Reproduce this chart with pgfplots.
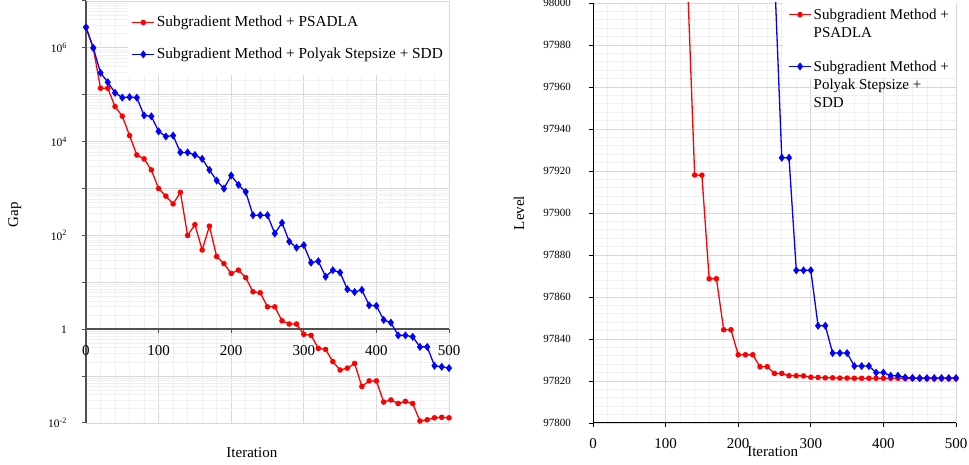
\documentclass[border=0pt]{standalone}
\usepackage{fontspec}
\setmainfont{Liberation Serif}
\usepackage{pgfplots}
\pgfplotsset{compat=1.18}
\definecolor{gmaj}{RGB}{217,217,217}
\definecolor{gmin}{RGB}{240,240,240}
\definecolor{axgray}{RGB}{80,80,80}
\pgfplotsset{
  /pgf/number format/assume math mode=true,
  /pgf/number format/1000 sep={},
  myleg/.style={legend image code/.code={%
    \draw[##1] (0pt,0pt) -- (22pt,0pt);
    \draw[##1,mark repeat=1] plot coordinates {(11pt,0pt)};}},
  redser/.style={red, line width=1.3pt, mark=*, mark size=2.1pt, mark options={solid}},
  blueser/.style={blue, line width=1.3pt, mark=diamond*, mark size=3pt, mark options={solid}},
}
\begin{document}
\fontsize{15}{17.5}\selectfont
\begin{tikzpicture}[x=1pt,y=1pt]
\useasboundingbox (0,0) rectangle (969,465);
\begin{axis}[
  at={(86pt,42pt)}, anchor=south west, scale only axis,
  width=363pt, height=422pt,
  ymode=log, xmin=0, xmax=500, ymin=1e-2, ymax=1e7,
  axis x line=middle, axis y line=left,
  axis line style={-, draw=axgray, line width=1.3pt},
  every outer y axis line/.append style={-, draw=axgray, line width=1.3pt},
  hide obscured x ticks=false,
  xtick={0,100,200,300,400,500}, minor x tick num=4,
  ytick={1e-2,1e-1,1,1e1,1e2,1e3,1e4,1e5,1e6,1e7},
  yticklabels={10\textsuperscript{-2},,1,,10\textsuperscript{2},,10\textsuperscript{4},,10\textsuperscript{6},},
  minor ytick={2e-2,3e-2,4e-2,5e-2,6e-2,7e-2,8e-2,9e-2,
    2e-1,3e-1,4e-1,5e-1,6e-1,7e-1,8e-1,9e-1,
    2,3,4,5,6,7,8,9,20,30,40,50,60,70,80,90,
    200,300,400,500,600,700,800,900,
    2e3,3e3,4e3,5e3,6e3,7e3,8e3,9e3,
    2e4,3e4,4e4,5e4,6e4,7e4,8e4,9e4,
    2e5,3e5,4e5,5e5,6e5,7e5,8e5,9e5,
    2e6,3e6,4e6,5e6,6e6,7e6,8e6,9e6},
  grid=both,
  major grid style={gmaj, line width=0.9pt},
  minor grid style={gmin, line width=0.9pt},
  tick align=outside, major tick length=4pt, minor tick length=0pt,
  tick style={axgray, line width=1pt},
  xticklabel style={font=\fontsize{15}{18}\selectfont, yshift=-7pt},
  yticklabel style={font=\fontsize{11.5}{13}\selectfont, xshift=-10pt},
  xlabel={Iteration}, ylabel={Gap},
  xlabel style={at={(axis description cs:0.457,-0.069)}, anchor=center, font=\fontsize{15}{18}\selectfont},
  ylabel style={at={(axis description cs:-0.196,0.493)}, anchor=center, font=\fontsize{15}{18}\selectfont},
  legend style={at={(axis description cs:1,0.998)}, anchor=north east, fill=white, draw=none,
    font=\fontsize{15.3}{18}\selectfont, row sep=15pt, inner xsep=4pt, inner ysep=12pt},
  legend cell align=left, myleg,
]
\addplot[axgray, line width=1.6pt, mark=none, forget plot] coordinates {(0,1)(500,1)};
\addplot[axgray, line width=1pt, mark=none, forget plot] coordinates {(100,1)(100,0.88)};
\addplot[axgray, line width=1pt, mark=none, forget plot] coordinates {(200,1)(200,0.88)};
\addplot[axgray, line width=1pt, mark=none, forget plot] coordinates {(300,1)(300,0.88)};
\addplot[axgray, line width=1pt, mark=none, forget plot] coordinates {(400,1)(400,0.88)};
\addplot[axgray, line width=1pt, mark=none, forget plot] coordinates {(500,1)(500,0.88)};
\addplot[redser] coordinates {
(0,2.75e6)(10,1.0e6)(20,1.38e5)(30,1.38e5)(40,5.6e4)(50,3.5e4)(60,1.35e4)(70,5.2e3)(80,4.3e3)(90,2.5e3)
(100,1.0e3)(110,690)(120,470)(130,830)(140,100)(150,170)(160,49)(170,158)(180,35.5)(190,25)
(200,15.5)(210,18.2)(220,12.6)(230,6.3)(240,6.0)(250,3.0)(260,3.0)(270,1.51)(280,1.29)(290,1.29)
(300,0.78)(310,0.74)(320,0.39)(330,0.37)(340,0.204)(350,0.135)(360,0.148)(370,0.186)(380,0.060)(390,0.079)
(400,0.079)(410,0.028)(420,0.031)(430,0.026)(440,0.029)(450,0.026)(460,0.011)(470,0.0117)(480,0.0129)(490,0.0132)(500,0.0129)};
\addlegendentry{Subgradient Method + PSADLA}
\addplot[blueser] coordinates {
(0,2.75e6)(10,1.0e6)(20,2.95e5)(30,1.86e5)(40,1.10e5)(50,8.7e4)(60,8.9e4)(70,8.7e4)(80,3.63e4)(90,3.47e4)
(100,1.66e4)(110,1.29e4)(120,1.35e4)(130,5.9e3)(140,5.9e3)(150,5.2e3)(160,4.3e3)(170,2.5e3)(180,1.48e3)(190,1.0e3)
(200,1.9e3)(210,1.2e3)(220,850)(230,270)(240,270)(250,270)(260,110)(270,186)(280,74)(290,55)
(300,62)(310,26.3)(320,28.2)(330,13.2)(340,18.2)(350,16.2)(360,7.1)(370,6.2)(380,6.9)(390,3.24)
(400,3.16)(410,1.58)(420,1.38)(430,0.74)(440,0.74)(450,0.69)(460,0.42)(470,0.42)(480,0.166)(490,0.158)(500,0.148)};
\addlegendentry{Subgradient Method + Polyak Stepsize + SDD}
\end{axis}
\begin{axis}[
  at={(593pt,42pt)}, anchor=south west, scale only axis,
  width=363pt, height=420pt,
  xmin=0, xmax=500, ymin=97800, ymax=98000,
  scaled y ticks=false, scaled x ticks=false,
  axis lines=left, axis line style={-, draw=black, line width=1pt},
  xtick={0,100,200,300,400,500}, minor x tick num=4,
  ytick={97800,97820,97840,97860,97880,97900,97920,97940,97960,97980,98000},
  minor y tick num=4,
  grid=both,
  major grid style={gmaj, line width=0.9pt},
  minor grid style={gmin, line width=0.9pt},
  tick align=outside, major tick length=4pt, minor tick length=0pt,
  tick style={black, line width=0.9pt},
  xticklabel style={font=\fontsize{15}{18}\selectfont, yshift=-6pt},
  yticklabel style={font=\fontsize{11}{13}\selectfont, xshift=-13pt},
  xlabel={Iteration}, ylabel={Level},
  xlabel style={at={(axis description cs:0.495,-0.069)}, anchor=center, font=\fontsize{15}{18}\selectfont},
  ylabel style={at={(axis description cs:-0.204,0.5)}, anchor=center, font=\fontsize{15}{18}\selectfont},
  legend style={at={(axis description cs:1,1)}, anchor=north east, fill=white, draw=none,
    font=\fontsize{15}{18}\selectfont, row sep=33pt, inner xsep=5pt, inner ysep=2pt,
    cells={anchor=base west}},
  legend cell align=left, myleg,
]
\addplot[redser] coordinates {
(120,98060)(130,98012)(140,97918.1)(150,97918)(160,97868.7)(170,97868.7)(180,97844.4)(190,97844.4)
(200,97832.5)(210,97832.5)(220,97832.5)(230,97826.8)(240,97826.8)(250,97823.6)(260,97823.6)(270,97822.5)(280,97822.5)(290,97822.4)
(300,97821.8)(310,97821.7)(320,97821.5)(330,97821.5)(340,97821.4)(350,97821.4)(360,97821.3)(370,97821.3)(380,97821.3)(390,97821.3)
(400,97821.3)(410,97821.3)(420,97821.3)(430,97821.2)(440,97821.2)(450,97821.2)(460,97821.2)(470,97821.2)(480,97821.2)(490,97821.2)(500,97821.2)};
\addlegendentry{\begin{tabular}[t]{@{}l@{}}Subgradient Method +\\PSADLA\end{tabular}}
\addplot[blueser] coordinates {
(240,98080)(250,98014)(260,97926.3)(270,97926.3)(280,97872.7)(290,97872.7)(300,97872.7)(310,97846.3)(320,97846.3)
(330,97833.3)(340,97833.3)(350,97833.3)(360,97827.1)(370,97827.1)(380,97827.1)(390,97824.0)(400,97824.0)
(410,97822.5)(420,97822.5)(430,97821.7)(440,97821.5)(450,97821.4)(460,97821.4)(470,97821.4)(480,97821.4)(490,97821.4)(500,97821.4)};
\addlegendentry{\begin{tabular}[t]{@{}l@{}}Subgradient Method +\\Polyak Stepsize +\\SDD\end{tabular}}
\end{axis}
\end{tikzpicture}
\end{document}
